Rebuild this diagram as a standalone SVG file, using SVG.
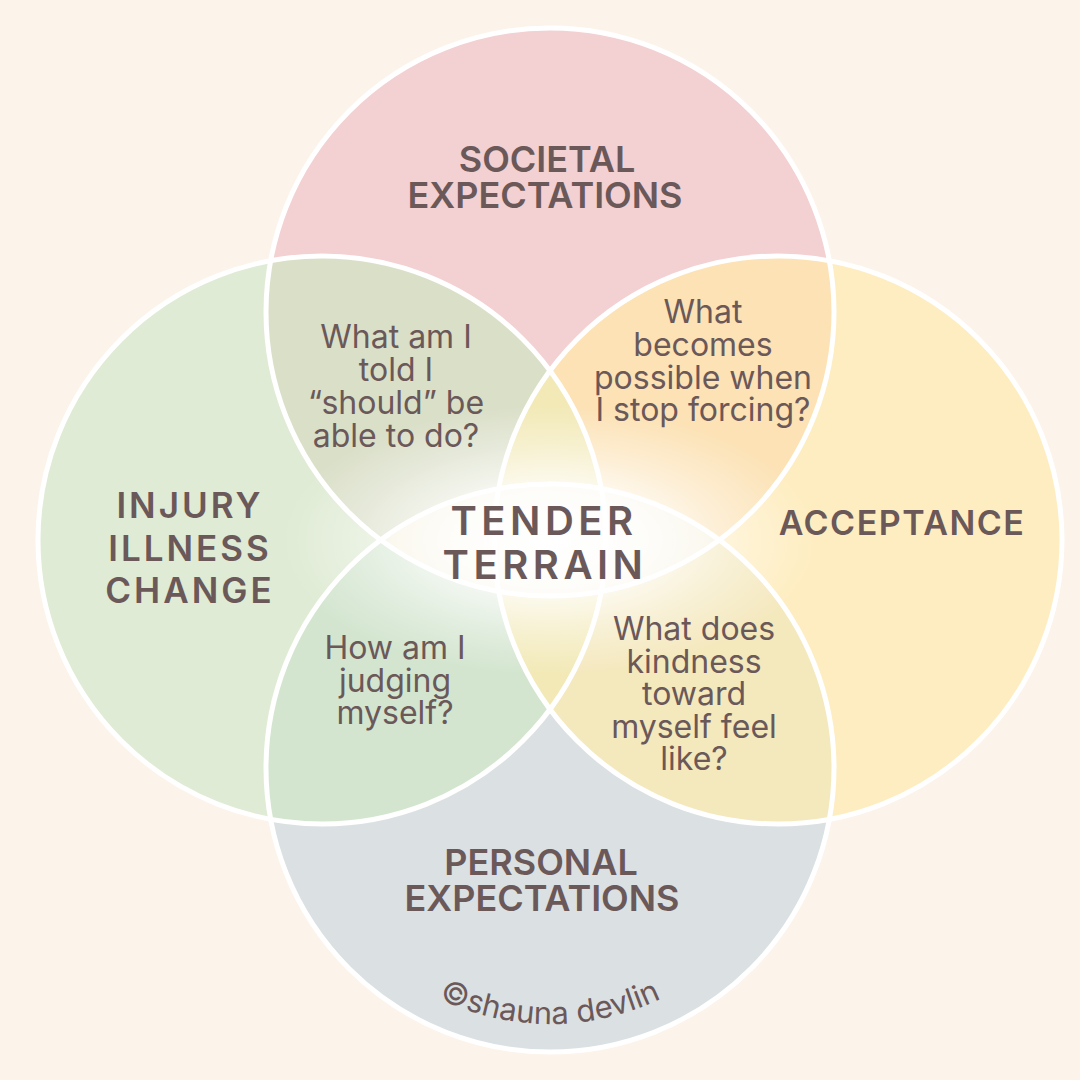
<svg xmlns="http://www.w3.org/2000/svg" width="1080" height="1080" viewBox="0 0 1080 1080">
  <style>
    .outline { fill: none; stroke: #FFFFFF; stroke-width: 5; }
    .label { font-family: Inter, "Liberation Sans", sans-serif; font-weight: 600; fill: #6B5859; text-anchor: middle; }
    .q { font-family: Inter, "Liberation Sans", sans-serif; font-weight: 400; font-size: 32px; fill: #6B5859; text-anchor: middle; }
    .credit { font-family: Inter, "Liberation Sans", sans-serif; font-weight: 400; font-size: 31px; fill: #6B5859; }
  </style>
  <defs>
    <clipPath id="clipTop"><circle cx="550" cy="312" r="284"/></clipPath>
    <clipPath id="clipBottom"><circle cx="550" cy="768" r="284"/></clipPath>
    <clipPath id="clipLeft"><circle cx="322" cy="540" r="284"/></clipPath>
    <clipPath id="clipRight"><circle cx="778" cy="540" r="284"/></clipPath>
    <radialGradient id="glow" cx="0.5" cy="0.5" r="0.5">
      <stop offset="0" stop-color="#FFFFFF" stop-opacity="1"/>
      <stop offset="0.35" stop-color="#FFFFFF" stop-opacity="0.85"/>
      <stop offset="0.7" stop-color="#FFFFFF" stop-opacity="0.35"/>
      <stop offset="1" stop-color="#FFFFFF" stop-opacity="0"/>
    </radialGradient>
    <path id="creditArc" d="M294,768 A256,256 0 0,0 806,768"/>
  </defs>

  <rect x="0" y="0" width="1080" height="1080" fill="#FCF3EA"/>

  <g id="regions">
    <circle cx="550" cy="312" r="284" fill="#F3D0D1"/>
    <circle cx="550" cy="768" r="284" fill="#DBE0E2"/>
    <circle cx="322" cy="540" r="284" fill="#DFEBD4"/>
    <circle cx="778" cy="540" r="284" fill="#FEEDC0"/>
    <circle cx="322" cy="540" r="284" fill="#DADFC8" clip-path="url(#clipTop)"/>
    <circle cx="778" cy="540" r="284" fill="#FCE2B5" clip-path="url(#clipTop)"/>
    <circle cx="322" cy="540" r="284" fill="#D3E5CF" clip-path="url(#clipBottom)"/>
    <circle cx="778" cy="540" r="284" fill="#F4E8BD" clip-path="url(#clipBottom)"/>
    <g clip-path="url(#clipLeft)">
      <circle cx="778" cy="540" r="284" fill="#F2E9B6"/>
    </g>
    <circle cx="550" cy="768" r="284" fill="#F6F1DE" clip-path="url(#clipTop)"/>
    <ellipse cx="550" cy="540" rx="270" ry="135" fill="url(#glow)"/>
  </g>

  <g id="node-societal">
    <circle class="outline" cx="550" cy="312" r="284"/>
    <text class="label" font-size="36" x="547" y="172">SOCIETAL</text>
    <text class="label" font-size="36" x="545" y="208">EXPECTATIONS</text>
  </g>
  <g id="node-personal">
    <circle class="outline" cx="550" cy="768" r="284"/>
    <text class="label" font-size="36" x="541" y="875">PERSONAL</text>
    <text class="label" font-size="36" x="542" y="911">EXPECTATIONS</text>
  </g>
  <g id="node-injury">
    <circle class="outline" cx="322" cy="540" r="284"/>
    <text class="label" font-size="35" letter-spacing="3" x="190" y="518">INJURY</text>
    <text class="label" font-size="35" letter-spacing="3" x="190" y="561">ILLNESS</text>
    <text class="label" font-size="35" letter-spacing="3" x="190" y="603">CHANGE</text>
  </g>
  <g id="node-acceptance">
    <circle class="outline" cx="778" cy="540" r="284"/>
    <text class="label" font-size="34" letter-spacing="1.5" x="902" y="535">ACCEPTANCE</text>
  </g>

  <g id="node-center">
    <text class="label" font-size="40" letter-spacing="4.5" x="544" y="535">TENDER</text>
    <text class="label" font-size="40" letter-spacing="4.5" x="545" y="579">TERRAIN</text>
  </g>

  <g id="node-top-left">
    <text class="q" x="396" y="348">What am I</text>
    <text class="q" x="396" y="381">told I</text>
    <text class="q" x="396" y="414">“should” be</text>
    <text class="q" x="396" y="447">able to do?</text>
  </g>
  <g id="node-top-right">
    <text class="q" x="703" y="323">What</text>
    <text class="q" x="703" y="356">becomes</text>
    <text class="q" x="703" y="389">possible when</text>
    <text class="q" x="703" y="421">I stop forcing?</text>
  </g>
  <g id="node-bottom-left">
    <text class="q" x="395" y="659">How am I</text>
    <text class="q" x="395" y="692">judging</text>
    <text class="q" x="395" y="724">myself?</text>
  </g>
  <g id="node-bottom-right">
    <text class="q" x="694" y="640">What does</text>
    <text class="q" x="694" y="673">kindness</text>
    <text class="q" x="694" y="705">toward</text>
    <text class="q" x="694" y="738">myself feel</text>
    <text class="q" x="694" y="770">like?</text>
  </g>

  <g id="credit">
    <text class="credit"><textPath href="#creditArc" startOffset="50%" text-anchor="middle">©shauna devlin</textPath></text>
  </g>
</svg>
